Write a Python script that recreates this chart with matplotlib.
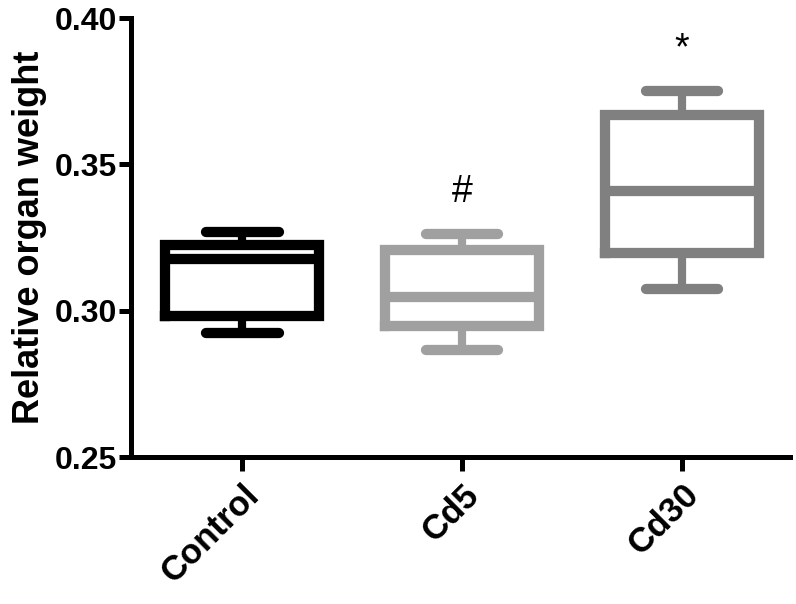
import matplotlib
matplotlib.use("Agg")
import matplotlib.pyplot as plt

# values
groups = ["Control", "Cd5", "Cd30"]
whisk_lo = [0.2924, 0.2865, 0.3076]
q1 = [0.2983, 0.2948, 0.3196]
median = [0.3178, 0.3048, 0.3410]
q3 = [0.3224, 0.3207, 0.3668]
whisk_hi = [0.3270, 0.3264, 0.3752]
marks = ["", "#", "*"]
mark_y = [None, 0.3405, 0.3895]
colors = ["#000000", "#a0a0a0", "#808080"]

plt.rcParams["font.family"] = ["Liberation Sans", "DejaVu Sans"]

fig = plt.figure(figsize=(7.96, 6.04), dpi=100)
ax = fig.add_axes([0.165, 0.243, 0.827, 0.727])

lw = 7.4
for i, g in enumerate(groups):
    st = [dict(label=g, whislo=whisk_lo[i], q1=q1[i], med=median[i],
               q3=q3[i], whishi=whisk_hi[i], fliers=[])]
    c = colors[i]
    ax.bxp(st, positions=[i + 1], widths=0.70, showfliers=False,
           boxprops=dict(color=c, linewidth=lw, solid_joinstyle="miter",
                         solid_capstyle="projecting"),
           medianprops=dict(color=c, linewidth=lw, solid_capstyle="butt"),
           whiskerprops=dict(color=c, linewidth=lw * 0.8),
           capprops=dict(color=c, linewidth=lw, solid_capstyle="round"),
           capwidths=0.33)
    if marks[i]:
        ax.text(i + 1, mark_y[i], marks[i], ha="center", va="center",
                fontsize=27, color="black")

ax.set_xlim(0.495, 3.49)
ax.set_ylim(0.25, 0.40)
ax.set_yticks([0.25, 0.30, 0.35, 0.40])
ax.set_yticklabels(["0.25", "0.30", "0.35", "0.40"])
ax.set_xticks([1, 2, 3])
ax.set_xticklabels(groups, rotation=45, ha="right", rotation_mode="anchor")

for s in ["top", "right"]:
    ax.spines[s].set_visible(False)
for s in ["left", "bottom"]:
    ax.spines[s].set_linewidth(3.6)

ax.tick_params(axis="both", width=3.6, length=9, pad=1)
ax.tick_params(axis="y", labelsize=23)
ax.tick_params(axis="x", length=10, pad=5, labelsize=25)
for lab in ax.get_xticklabels() + ax.get_yticklabels():
    lab.set_fontweight("bold")

ax.set_ylabel("Relative organ weight", fontsize=26, fontweight="bold", labelpad=6)

fig.savefig("out.png", dpi=100)
